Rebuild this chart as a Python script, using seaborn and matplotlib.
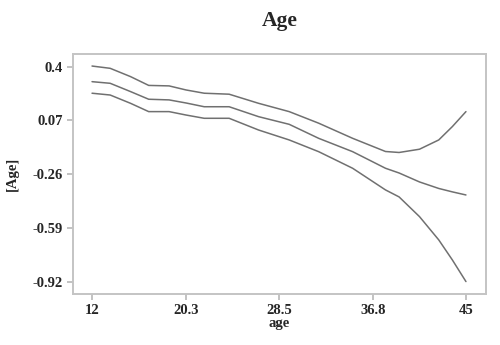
import numpy as np
import pandas as pd
import seaborn as sns
from matplotlib import pyplot as plt

# values
age = [12, 13.6, 15.4, 17.0, 18.8, 20.3, 21.9, 24.1, 26.7, 29.4,
       32.0, 35.0, 37.9, 39.1, 40.9, 42.6, 43.8, 45]
upper = [0.404, 0.390, 0.339, 0.285, 0.282, 0.257, 0.237, 0.231, 0.175, 0.124,
         0.053, -0.040, -0.121, -0.127, -0.107, -0.050, 0.032, 0.124]
estimate = [0.308, 0.298, 0.247, 0.200, 0.196, 0.177, 0.154, 0.154, 0.093, 0.046,
            -0.040, -0.122, -0.224, -0.253, -0.308, -0.348, -0.369, -0.388]
lower = [0.237, 0.226, 0.175, 0.124, 0.124, 0.103, 0.083, 0.083, 0.011, -0.050,
         -0.122, -0.224, -0.357, -0.400, -0.521, -0.664, -0.787, -0.92]

x_ticks = [12, 20.3, 28.5, 36.8, 45]
x_tick_labels = ["12", "20.3", "28.5", "36.8", "45"]
y_ticks = [0.4, 0.07, -0.26, -0.59, -0.92]
y_tick_labels = ["0.4", "0.07", "-0.26", "-0.59", "-0.92"]

df = pd.DataFrame({"age": age * 3,
                   "value": upper + estimate + lower,
                   "band": ["upper"] * len(age) + ["estimate"] * len(age) + ["lower"] * len(age)})

sns.set_style("white")
plt.rcParams["font.family"] = ["Liberation Serif", "DejaVu Serif"]
plt.rcParams["font.weight"] = "bold"

fig = plt.figure(figsize=(5, 3.45), dpi=100)
ax = fig.add_axes([0.146, 0.148, 0.826, 0.6955])

sns.lineplot(data=df, x="age", y="value", units="band", estimator=None,
             color="#707070", linewidth=1.1, ax=ax)

ax.set_xlim(10.32, 46.77)
ax.set_ylim(-0.996, 0.478)
ax.set_xticks(x_ticks)
ax.set_xticklabels(x_tick_labels, fontsize=10.5, fontweight="bold")
ax.set_yticks(y_ticks)
ax.set_yticklabels(y_tick_labels, fontsize=10.5, fontweight="bold")
ax.tick_params(axis="both", direction="out", length=4.5, width=1.2,
               color="#b8b8b8", pad=3, bottom=True, left=True)

for s in ax.spines.values():
    s.set_visible(True)
    s.set_color("#c4c4c4")
    s.set_linewidth(1.4)

ax.set_xlabel("age", fontsize=10.5, fontweight="bold", labelpad=0)
ax.set_ylabel("[Age]", fontsize=10.5, fontweight="bold", labelpad=10)
ax.set_title("Age", fontsize=15.5, fontweight="bold", pad=20)

fig.savefig("out.png", dpi=100)
